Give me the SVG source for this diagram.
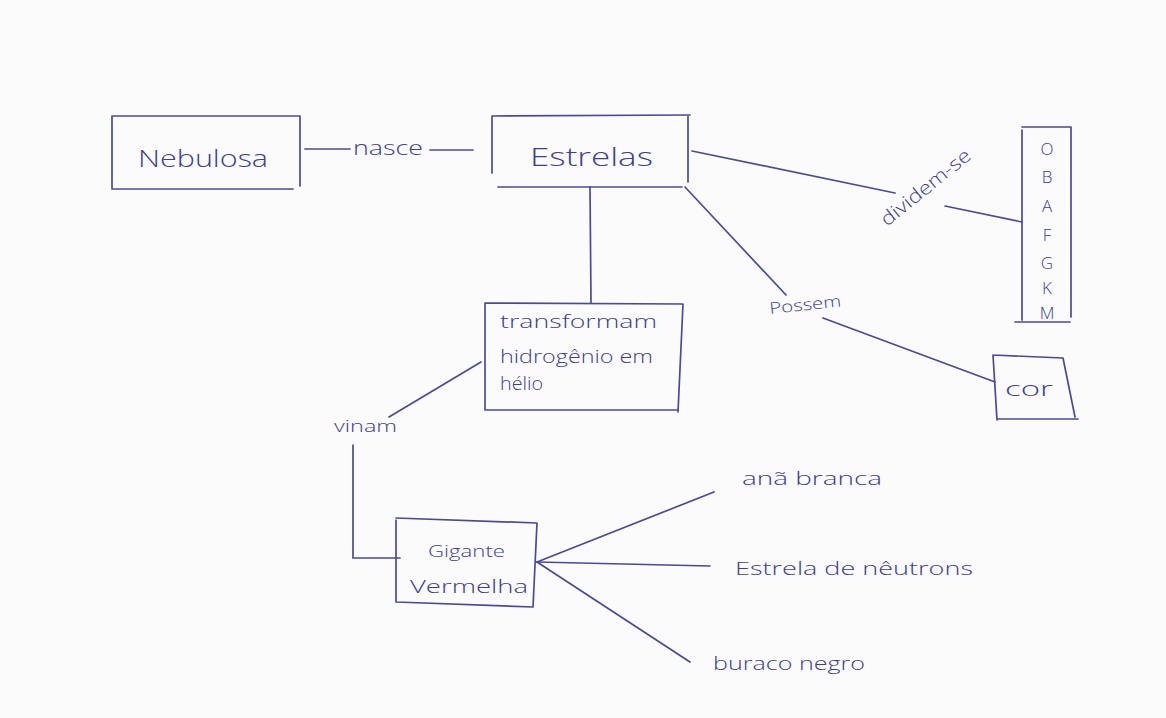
<svg xmlns="http://www.w3.org/2000/svg" width="1166" height="718" viewBox="0 0 1166 718">
<style>
.ln{stroke:#4a4a98;stroke-width:1.7;fill:none;stroke-linecap:round}
.t{fill:#3e3e8e;font-family:"Open Sans","Liberation Sans",sans-serif;font-weight:300}
.c{font-size:17px;text-anchor:middle}
</style>
<rect x="0" y="0" width="1166" height="718" fill="#fbfbfb"/>
<g id="connectors">
<path class="ln" d="M305 149 L350 149"/>
<path class="ln" d="M430 150 L473 150"/>
<path class="ln" d="M692 151 L895 193"/>
<path class="ln" d="M945 206 L1022 222"/>
<path class="ln" d="M590 187 L591 303"/>
<path class="ln" d="M685 187 L786 295"/>
<path class="ln" d="M823 318 L995 382"/>
<path class="ln" d="M481 362 L389 417"/>
<path class="ln" d="M353 445 L353 558 L400 558"/>
<path class="ln" d="M537 562 L714 492"/>
<path class="ln" d="M537 562 L710 566"/>
<path class="ln" d="M537 562 L690 662"/>
<text class="t" x="353" y="155" font-size="20" textLength="70" lengthAdjust="spacingAndGlyphs">nasce</text>
<text class="t" font-size="19" transform="translate(887 227) rotate(-39)" textLength="110" lengthAdjust="spacingAndGlyphs">dividem-se</text>
<text class="t" font-size="16" transform="translate(770 314) rotate(-6)" textLength="72" lengthAdjust="spacingAndGlyphs">Possem</text>
<text class="t" x="334" y="432" font-size="16" textLength="63" lengthAdjust="spacingAndGlyphs">vinam</text>
</g>
<g id="nebulosa">
<path class="ln" d="M112 116 L300 116 M300 116 L300 186 M293 189 L112 189 M112 116 L112 188"/>
<text class="t" x="138" y="167" font-size="24" textLength="130" lengthAdjust="spacingAndGlyphs">Nebulosa</text>
</g>
<g id="estrelas">
<path class="ln" d="M492 116 L690 115 M688 115 L688 182 M682 187 L498 187 M492 117 L492 173"/>
<text class="t" x="530" y="166" font-size="26" textLength="123" lengthAdjust="spacingAndGlyphs">Estrelas</text>
</g>
<g id="classes">
<path class="ln" d="M1022 130 L1022 320 M1022 127 L1071 127 M1071 127 L1071 317 M1015 322 L1070 322"/>
<text class="t c" x="1047" y="155">O</text>
<text class="t c" x="1047" y="183">B</text>
<text class="t c" x="1047" y="212">A</text>
<text class="t c" x="1047" y="241">F</text>
<text class="t c" x="1047" y="269">G</text>
<text class="t c" x="1047" y="294">K</text>
<text class="t c" x="1047" y="319">M</text>
</g>
<g id="cor">
<path class="ln" d="M993 355 L1063 358 M1063 358 L1075 417 M997 419 L1078 419 M993 355 L997 420"/>
<text class="t" x="1005" y="396" font-size="21" textLength="48" lengthAdjust="spacingAndGlyphs">cor</text>
</g>
<g id="transformam">
<path class="ln" d="M485 303 L683 304 M683 304 L678 412 M485 410 L677 410 M485 303 L485 410"/>
<text class="t" x="500" y="328" font-size="18" textLength="157" lengthAdjust="spacingAndGlyphs">transformam</text>
<text class="t" x="500" y="363" font-size="18" textLength="153" lengthAdjust="spacingAndGlyphs">hidrogênio em</text>
<text class="t" x="500" y="390" font-size="18" textLength="43" lengthAdjust="spacingAndGlyphs">hélio</text>
</g>
<g id="gigante">
<path class="ln" d="M396 518 L537 523 M537 523 L533 607 M396 602 L533 607 M396 520 L396 602"/>
<text class="t" x="428" y="557" font-size="17" textLength="77" lengthAdjust="spacingAndGlyphs">Gigante</text>
<text class="t" x="410" y="593" font-size="18" textLength="118" lengthAdjust="spacingAndGlyphs">Vermelha</text>
</g>
<g id="ana-branca">
<text class="t" x="742" y="485" font-size="19" textLength="140" lengthAdjust="spacingAndGlyphs">anã branca</text>
</g>
<g id="estrela-neutrons">
<text class="t" x="735" y="575" font-size="19" textLength="238" lengthAdjust="spacingAndGlyphs">Estrela de nêutrons</text>
</g>
<g id="buraco-negro">
<text class="t" x="713" y="670" font-size="18" textLength="152" lengthAdjust="spacingAndGlyphs">buraco negro</text>
</g>
</svg>
